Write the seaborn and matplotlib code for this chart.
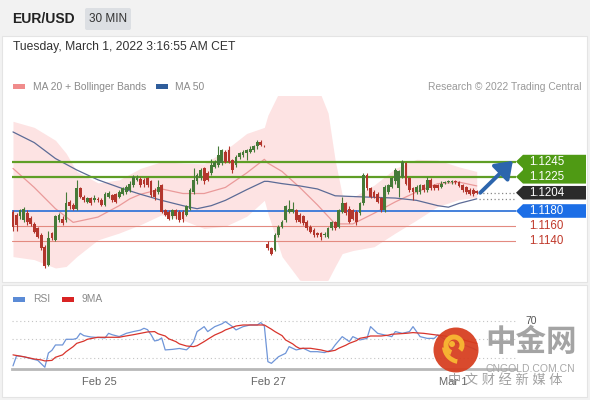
import matplotlib
matplotlib.use("Agg")
import matplotlib.pyplot as plt
import matplotlib.transforms as mtransforms
from matplotlib.patches import Polygon, Rectangle, Circle, Wedge, FancyBboxPatch
import numpy as np
import seaborn as sns

# --- Datos: velas de 30 min EUR/USD (24 feb 12:00 -> 1 mar 03:00 CET) ---
opens = [
    1.1179, 1.1175, 1.1173, 1.1168, 1.1177, 1.1171, 1.1163, 1.1157, 1.1148, 1.1133,
    1.1109, 1.1151, 1.1142, 1.1168, 1.1170, 1.1168, 1.1192, 1.1188, 1.1183, 1.1210,
    1.1199, 1.1192, 1.1197, 1.1194, 1.1196, 1.1194, 1.1188, 1.1199, 1.1201, 1.1202,
    1.1199, 1.1203, 1.1205, 1.1208, 1.1214, 1.1221, 1.1222, 1.1221, 1.1223, 1.1219,
    1.1208, 1.1205, 1.1214, 1.1181, 1.1179, 1.1173, 1.1181, 1.1179, 1.1179, 1.1175,
    1.1183, 1.1205, 1.1219, 1.1223, 1.1236, 1.1230, 1.1230, 1.1238, 1.1240, 1.1243,
    1.1258, 1.1260, 1.1247, 1.1240, 1.1251, 1.1254, 1.1256, 1.1258, 1.1260, 1.1265,
    1.1271, 1.1266,
    1.1137, 1.1131, 1.1129, 1.1148, 1.1159, 1.1168, 1.1179, 1.1179,
    1.1181, 1.1175, 1.1173, 1.1166, 1.1159, 1.1155, 1.1151, 1.1151, 1.1149, 1.1146,
    1.1157, 1.1165, 1.1159, 1.1179, 1.1190, 1.1183, 1.1181, 1.1179, 1.1177, 1.1190,
    1.1227, 1.1210, 1.1205, 1.1203, 1.1197, 1.1181, 1.1205, 1.1212, 1.1219, 1.1210,
    1.1225, 1.1243, 1.1223, 1.1210, 1.1205, 1.1205, 1.1214, 1.1208, 1.1221, 1.1214,
    1.1214, 1.1212, 1.1217, 1.1218, 1.1218, 1.1219, 1.1218, 1.1214, 1.1211, 1.1208,
    1.1208, 1.1206,
]
closes = [
    1.1159, 1.1162, 1.1181, 1.1182, 1.1165, 1.1163, 1.1153, 1.1146, 1.1131, 1.1107,
    1.1144, 1.1144, 1.1173, 1.1175, 1.1164, 1.1190, 1.1186, 1.1183, 1.1210, 1.1199,
    1.1194, 1.1197, 1.1190, 1.1197, 1.1194, 1.1188, 1.1203, 1.1204, 1.1194, 1.1192,
    1.1205, 1.1210, 1.1212, 1.1216, 1.1225, 1.1224, 1.1214, 1.1215, 1.1214, 1.1201,
    1.1199, 1.1212, 1.1179, 1.1175, 1.1170, 1.1181, 1.1173, 1.1168, 1.1170, 1.1186,
    1.1208, 1.1221, 1.1227, 1.1234, 1.1219, 1.1221, 1.1240, 1.1245, 1.1254, 1.1260,
    1.1245, 1.1245, 1.1234, 1.1251, 1.1256, 1.1258, 1.1260, 1.1262, 1.1265, 1.1271,
    1.1267, 1.1265,
    1.1131, 1.1124, 1.1148, 1.1159, 1.1166, 1.1186, 1.1183, 1.1183,
    1.1168, 1.1166, 1.1164, 1.1157, 1.1153, 1.1148, 1.1149, 1.1146, 1.1150, 1.1157,
    1.1165, 1.1157, 1.1181, 1.1190, 1.1177, 1.1166, 1.1170, 1.1165, 1.1190, 1.1227,
    1.1210, 1.1199, 1.1199, 1.1192, 1.1181, 1.1212, 1.1214, 1.1223, 1.1234, 1.1232,
    1.1245, 1.1216, 1.1208, 1.1205, 1.1211, 1.1214, 1.1208, 1.1221, 1.1210, 1.1210,
    1.1210, 1.1216, 1.1218, 1.1219, 1.1219, 1.1218, 1.1213, 1.1208, 1.1205, 1.1203,
    1.1202, 1.1204,
]
highs = [
    1.1181, 1.1177, 1.1183, 1.1185, 1.1181, 1.1174, 1.1166, 1.1159, 1.1151, 1.1135,
    1.1154, 1.1153, 1.1175, 1.1177, 1.1173, 1.1205, 1.1194, 1.1190, 1.1221, 1.1212,
    1.1201, 1.1199, 1.1199, 1.1201, 1.1199, 1.1197, 1.1205, 1.1206, 1.1203, 1.1204,
    1.1208, 1.1212, 1.1214, 1.1219, 1.1227, 1.1227, 1.1225, 1.1223, 1.1225, 1.1221,
    1.1210, 1.1221, 1.1216, 1.1183, 1.1181, 1.1183, 1.1183, 1.1181, 1.1181, 1.1188,
    1.1210, 1.1236, 1.1230, 1.1236, 1.1238, 1.1232, 1.1249, 1.1247, 1.1265, 1.1262,
    1.1260, 1.1265, 1.1249, 1.1254, 1.1258, 1.1260, 1.1262, 1.1265, 1.1267, 1.1273,
    1.1273, 1.1267,
    1.1140, 1.1133, 1.1151, 1.1162, 1.1168, 1.1188, 1.1194, 1.1192,
    1.1183, 1.1177, 1.1175, 1.1168, 1.1162, 1.1157, 1.1153, 1.1153, 1.1153, 1.1159,
    1.1167, 1.1167, 1.1183, 1.1199, 1.1192, 1.1186, 1.1183, 1.1181, 1.1192, 1.1230,
    1.1230, 1.1212, 1.1208, 1.1205, 1.1199, 1.1214, 1.1216, 1.1225, 1.1236, 1.1234,
    1.1247, 1.1245, 1.1225, 1.1212, 1.1214, 1.1216, 1.1216, 1.1225, 1.1223, 1.1216,
    1.1216, 1.1219, 1.1219, 1.1221, 1.1221, 1.1221, 1.1220, 1.1216, 1.1213, 1.1210,
    1.1210, 1.1207,
]
lows = [
    1.1154, 1.1154, 1.1170, 1.1166, 1.1162, 1.1160, 1.1151, 1.1144, 1.1129, 1.1105,
    1.1107, 1.1142, 1.1140, 1.1166, 1.1162, 1.1166, 1.1183, 1.1181, 1.1181, 1.1197,
    1.1192, 1.1190, 1.1188, 1.1192, 1.1192, 1.1186, 1.1186, 1.1197, 1.1192, 1.1190,
    1.1197, 1.1201, 1.1203, 1.1205, 1.1212, 1.1219, 1.1212, 1.1212, 1.1212, 1.1199,
    1.1194, 1.1203, 1.1177, 1.1173, 1.1168, 1.1170, 1.1170, 1.1166, 1.1165, 1.1173,
    1.1181, 1.1203, 1.1216, 1.1221, 1.1216, 1.1219, 1.1227, 1.1236, 1.1238, 1.1240,
    1.1243, 1.1243, 1.1230, 1.1238, 1.1249, 1.1251, 1.1247, 1.1256, 1.1258, 1.1262,
    1.1265, 1.1264,
    1.1129, 1.1122, 1.1127, 1.1146, 1.1157, 1.1166, 1.1177, 1.1177,
    1.1166, 1.1164, 1.1162, 1.1155, 1.1151, 1.1146, 1.1146, 1.1142, 1.1146, 1.1144,
    1.1155, 1.1155, 1.1157, 1.1177, 1.1175, 1.1164, 1.1168, 1.1162, 1.1175, 1.1188,
    1.1208, 1.1197, 1.1197, 1.1190, 1.1179, 1.1179, 1.1203, 1.1210, 1.1216, 1.1199,
    1.1223, 1.1214, 1.1205, 1.1194, 1.1203, 1.1203, 1.1205, 1.1205, 1.1208, 1.1208,
    1.1208, 1.1210, 1.1216, 1.1217, 1.1216, 1.1216, 1.1211, 1.1205, 1.1203, 1.1201,
    1.1200, 1.1202,
]

# MA 20 + Bollinger, MA 50 (índice de vela)
ma20_idx = [0, 6, 12, 17, 24, 30, 33, 36, 42, 48, 54, 60, 66, 71, 72, 76, 81, 86, 91, 96,
            102, 108, 114, 120, 126, 131]
ma20_vals = [1.1236, 1.1211, 1.1183, 1.1165, 1.1172, 1.1187, 1.1196, 1.1202, 1.1209, 1.1203,
             1.1203, 1.1211, 1.1230, 1.1248, 1.1243, 1.1232, 1.1211, 1.1188, 1.1163, 1.1163,
             1.1177, 1.1192, 1.1205, 1.1216, 1.1218, 1.1213]
ma50_idx = [0, 6, 12, 18, 24, 30, 36, 42, 48, 52, 56, 60, 66, 71, 72, 76, 81, 86, 91, 96,
            102, 108, 114, 120, 123, 126, 131]
ma50_vals = [1.1284, 1.1270, 1.1249, 1.1234, 1.1221, 1.1211, 1.1202, 1.1194, 1.1187, 1.1183,
             1.1187, 1.1194, 1.1208, 1.1219, 1.1219, 1.1216, 1.1213, 1.1209, 1.1200, 1.1199,
             1.1198, 1.1197, 1.1194, 1.1187, 1.1185, 1.1190, 1.1196]
band_idx = [0, 6, 12, 15, 18, 24, 30, 36, 42, 48, 54, 60, 66, 71, 72, 76, 81, 86, 89, 91,
            93, 96, 102, 108, 114, 120, 126, 131]
upper_band = [1.1298, 1.1290, 1.1273, 1.1256, 1.1232, 1.1217, 1.1221, 1.1236, 1.1245, 1.1243,
              1.1242, 1.1260, 1.1282, 1.1290, 1.1306, 1.1344, 1.1352, 1.1344, 1.1309, 1.1247,
              1.1201, 1.1198, 1.1214, 1.1236, 1.1248, 1.1247, 1.1238, 1.1232]
lower_band = [1.1120, 1.1116, 1.1105, 1.1107, 1.1120, 1.1142, 1.1151, 1.1162, 1.1175, 1.1168,
              1.1157, 1.1160, 1.1173, 1.1194, 1.1177, 1.1120, 1.1089, 1.1085, 1.1089, 1.1107,
              1.1124, 1.1128, 1.1133, 1.1151, 1.1168, 1.1186, 1.1195, 1.1198]

# RSI y su media de 9
rsi_idx = [0, 1, 3, 5, 7, 9, 10, 11, 12, 14, 15, 17, 18, 19, 20, 22, 24, 26, 27, 28,
           30, 32, 34, 36, 37, 38, 39, 40, 41, 42, 43, 45, 47, 49, 50, 51, 52, 53, 54, 55,
           57, 59, 60, 62, 63, 65, 67, 69, 70, 71, 72, 73, 75, 77, 78, 80, 82, 84, 86, 88,
           90, 91, 93, 95, 96, 98, 100, 101, 103, 105, 107, 108, 110, 112, 113, 115, 117, 119, 120, 122,
           124, 126, 128, 130, 131]
rsi_vals = [21, 32, 31, 29, 27, 19.5, 35, 38, 43.8, 43.8, 50, 50, 51, 56.5, 54, 52.5, 52, 51.5, 56.5, 55,
            53, 56.5, 58.4, 60, 62, 60.5, 55, 48.2, 49, 51.5, 38.4, 39, 40, 38.5, 42, 47.5, 58.4, 61, 63.8, 58.4,
            63.8, 66.8, 69.3, 63.8, 60.2, 63.8, 65.6, 65.6, 68.2, 64.5, 25.6, 23.8, 31, 34.7, 42, 38.4, 40.2, 36.5, 36.5, 35.5,
            38.4, 43.8, 52.9, 47.5, 52.9, 49.3, 51, 63.8, 56.5, 54.7, 52.9, 58.4, 56.5, 58.4, 63.8, 52.9, 51, 51, 54.7, 50,
            47, 45, 43, 40, 38]
ma9_idx = [0, 3, 6, 8, 9, 11, 12, 14, 15, 17, 18, 20, 21, 23, 24, 28, 30, 31, 34, 36,
           38, 40, 41, 43, 44, 46, 47, 49, 51, 52, 54, 55, 57, 59, 60, 62, 63, 65, 67, 71,
           73, 74, 76, 77, 79, 80, 81, 82, 84, 87, 89, 91, 92, 94, 95, 97, 98, 100, 101, 104,
           106, 107, 109, 111, 113, 114, 116, 118, 120, 122, 124, 126, 128, 130, 131]
ma9_vals = [33, 31, 28.5, 27.5, 26.4, 27, 30.4, 33, 36.5, 42, 45.6, 48, 50, 51.5, 52.2, 52.2, 52.2, 53, 55, 56.5,
            58, 58.4, 56, 53.6, 50.5, 47.5, 45, 42.7, 42, 43, 47.5, 50, 54.7, 58, 60.2, 63, 64.5, 65.6, 65.6, 65.6,
            61, 58.4, 54, 49.3, 45, 42, 40, 40.2, 40.2, 38.4, 36.5, 38, 40.2, 43.5, 45.6, 48.5, 51.1, 52.5, 53.6, 53.6,
            54.5, 55.5, 56, 56.5, 57.3, 57, 56.5, 55.5, 54.5, 53.6, 52, 50.5, 48.5, 46.5, 45.5]

# Niveles
resistances = [1.1245, 1.1225]
pivot = 1.1180
supports = [1.1160, 1.1140]
last_price = 1.1204

tick_pos = [24.5, 72, 124.5]
tick_labels = ['Feb 25', 'Feb 27', 'Mar 1']

n = len(closes)
assert len(opens) == len(highs) == len(lows) == n

# --- Estilo ---
sns.set_style("white")
plt.rcParams['font.family'] = ['Liberation Sans', 'Noto Sans CJK SC', 'DejaVu Sans']

W, H = 590, 400
fig = plt.figure(figsize=(W / 100, H / 100), dpi=100)
fig.patch.set_facecolor('#f2f2f2')

# capa de fondo en píxeles
bg = fig.add_axes([0, 0, 1, 1], zorder=0)
bg.set_xlim(0, W); bg.set_ylim(H, 0); bg.set_axis_off()
bg.add_patch(Rectangle((2, 36), 585, 246, fc='white', ec='#e4e4e4', lw=0.8))
bg.add_patch(Rectangle((2, 285), 585, 112, fc='white', ec='#e4e4e4', lw=0.8))

bg.text(12, 19, 'EUR/USD', fontsize=10, fontweight='bold', color='#222222', va='center')
bg.add_patch(FancyBboxPatch((85, 8), 46, 22, boxstyle='round,pad=0,rounding_size=2',
                            fc='#dcdfe3', ec='none'))
bg.text(108, 19.5, '30 MIN', fontsize=8.5, color='#333333', ha='center', va='center')
bg.text(13, 47, 'Tuesday, March 1, 2022 3:16:55 AM CET', fontsize=8.7, color='#333333', va='center')

bg.add_patch(Rectangle((13, 84), 12, 5, fc='#f08c8c', ec='none'))
bg.text(33, 86.5, 'MA 20 + Bollinger Bands', fontsize=7.4, color='#8a8a8a', va='center')
bg.add_patch(Rectangle((156, 84), 12, 5, fc='#2f5d9b', ec='none'))
bg.text(175, 86.5, 'MA 50', fontsize=7.4, color='#8a8a8a', va='center')
bg.text(581, 86.5, 'Research \u00a9 2022 Trading Central', fontsize=7.4, color='#999999',
        ha='right', va='center')

bg.add_patch(Rectangle((13, 297), 12, 5, fc='#5b8bd6', ec='none'))
bg.text(33, 299.5, 'RSI', fontsize=7.4, color='#8a8a8a', va='center')
bg.add_patch(Rectangle((62, 297), 12, 5, fc='#d92424', ec='none'))
bg.text(82, 299.5, '9MA', fontsize=7.4, color='#8a8a8a', va='center')
bg.text(525, 321, '70', fontsize=7.5, color='#555555', va='center')

# --- Gráfico de precios ---
X0, X1 = 12, 516
step = 3.54  # px por vela
xlim = (-(13 - X0) / step, (X1 - 13) / step)
ylim = (1.10892, 1.13313)

ax = fig.add_axes([X0 / W, 1 - 280 / H, (X1 - X0) / W, 184 / H], zorder=1)
ax.set_facecolor('none')

ax.fill_between(band_idx, lower_band, upper_band, color='#fde3e3', lw=0, zorder=1)
sns.lineplot(x=ma20_idx, y=ma20_vals, ax=ax, color='#ea9a9a', lw=0.9, estimator=None, zorder=2)
sns.lineplot(x=ma50_idx, y=ma50_vals, ax=ax, color='#5c6b96', lw=0.9, estimator=None, zorder=2)

for lv in resistances:
    ax.axhline(lv, color='#5f9e26', lw=1.6, zorder=3)
ax.axhline(pivot, color='#3677d9', lw=1.3, zorder=3)
for lv in supports:
    ax.axhline(lv, color='#e38a80', lw=0.8, zorder=3)

idx = np.arange(n)
o = np.array(opens); c = np.array(closes)
cols = np.where(c >= o, '#467a38', '#b3362d')
ax.vlines(idx, lows, highs, colors=cols, lw=0.8, zorder=4)
body = np.maximum(np.abs(c - o), 0.00005)
ax.bar(idx, body, bottom=np.minimum(o, c), width=0.78, color=cols, lw=0, zorder=5)

ax.hlines([last_price, ma50_vals[-1]], n - 0.5, xlim[1], colors='#888888',
          linestyles=(0, (1, 2)), lw=0.9, zorder=3)
ax.annotate('', xy=(n + 9.2, 1.1246), xytext=(n, last_price),
            arrowprops=dict(arrowstyle='-|>,head_length=0.7,head_width=0.5', color='#2c65ad',
                            lw=2.8, shrinkA=0, shrinkB=0, mutation_scale=14), zorder=6)

ax.set_xlim(xlim); ax.set_ylim(ylim)
ax.set_axis_off()

# etiquetas de nivel a la derecha
trans = mtransforms.blended_transform_factory(ax.transAxes, ax.transData)
pxx = 1 / (X1 - X0)
ppp = (ylim[1] - ylim[0]) / 184


def tag(levels, color):
    hh = 6.8 * ppp
    x1, x2 = 1 + 7 * pxx, 1 + 70 * pxx
    lv = sorted(levels)
    pts = [(x1, lv[-1] + hh), (x2, lv[-1] + hh), (x2, lv[0] - hh), (x1, lv[0] - hh)]
    for v in lv:
        pts += [(x1, v - hh), (1.0, v), (x1, v + hh)]
    ax.add_patch(Polygon(pts, closed=True, transform=trans, clip_on=False,
                         fc=color, ec='none', zorder=6))
    for v in lv:
        ax.text(1 + 13 * pxx, v, f'{v:.4f}', transform=trans, color='white', fontsize=8.3,
                va='center', ha='left', clip_on=False, zorder=7)


tag(resistances, '#4f9a14')
tag([last_price], '#2b2b2b')
tag([pivot], '#1c6ee6')
for v in supports:
    ax.text(1 + 13 * pxx, v, f'{v:.4f}', transform=trans, color='#c0392b', fontsize=8.3,
            va='center', ha='left', clip_on=False)

# --- RSI ---
ax2 = fig.add_axes([X0 / W, 1 - 369 / H, (X1 - X0) / W, 64 / H], zorder=1)
ax2.set_facecolor('none')
for v in [30, 50, 70]:
    ax2.axhline(v, color='#c4c4c4', lw=0.8, ls=(0, (1, 2.5)), zorder=1)
sns.lineplot(x=rsi_idx, y=rsi_vals, ax=ax2, color='#6f95d8', lw=0.9, estimator=None)
sns.lineplot(x=ma9_idx, y=ma9_vals, ax=ax2, color='#d8342c', lw=0.9, estimator=None)
ax2.set_xlim(xlim); ax2.set_ylim(17.6, 87.4)
for s in ['top', 'right', 'left']:
    ax2.spines[s].set_visible(False)
ax2.spines['bottom'].set_color('#b8b8b8')
ax2.spines['bottom'].set_linewidth(2)
ax2.set_yticks([])
ax2.set_xticks(tick_pos)
ax2.set_xticklabels(tick_labels, fontsize=8, color='#666666')
ax2.tick_params(axis='x', which='major', length=0, pad=6)
ax2.set_xticks([xlim[0]], minor=True)
ax2.tick_params(axis='x', which='minor', length=5, width=1.5, color='#b8b8b8')
ax2.set_xlabel(''); ax2.set_ylabel('')

# --- Marca de agua ---
fg = fig.add_axes([0, 0, 1, 1], zorder=5)
fg.set_xlim(0, W); fg.set_ylim(H, 0); fg.set_axis_off(); fg.set_facecolor('none')
fg.add_patch(Circle((456, 350), 22.5, fc='#d63c1d', ec='none', alpha=0.93))
fg.add_patch(Wedge((454, 345), 10.5, 110, 400, width=5, fc='#f6b232', ec='none'))
fg.add_patch(Wedge((460, 346), 18, 100, 175, width=4.5, fc='#f6b232', ec='none'))
fg.add_patch(Circle((452, 344), 3, fc='#f6b232', ec='none'))
fg.text(531, 343, '中金网', fontsize=22, fontweight='bold', color='#9a9a9a', alpha=0.9,
        ha='center', va='center')
fg.text(530, 369, 'CNGOLD.COM.CN', fontsize=7.5, color='#a8a8a8', ha='center', va='center')
fg.text(505, 381, '中 文 财 经 新 媒 体', fontsize=9.5, color='#a0a0a0', ha='center', va='center')

fig.savefig('out.png', dpi=100, facecolor=fig.get_facecolor())
